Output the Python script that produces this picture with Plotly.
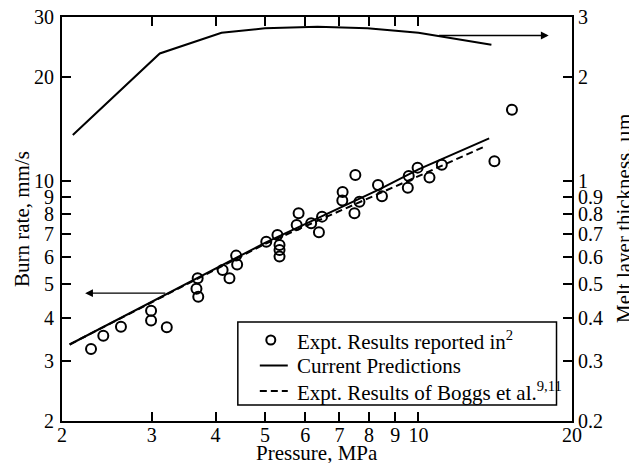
import math
import plotly.graph_objects as go

# ---------------- data ----------------
pressure_expt = [2.28, 2.41, 2.61, 2.99, 2.99, 3.21, 3.69, 3.67, 3.70, 4.13, 4.26, 4.39, 4.41,
                 5.03, 5.29, 5.34, 5.34, 5.34, 5.77, 5.82, 6.16, 6.38, 6.47, 7.10, 7.09, 7.52,
                 7.66, 7.49, 8.33, 8.48, 9.53, 9.57, 9.96, 10.51, 11.11, 14.09, 15.25]
burn_expt = [3.24, 3.54, 3.76, 4.19, 3.92, 3.75, 5.21, 4.85, 4.60, 5.50, 5.21, 6.06, 5.71,
             6.65, 6.96, 6.51, 6.29, 6.02, 7.44, 8.05, 7.53, 7.09, 7.87, 9.28, 8.77, 10.40,
             8.70, 8.05, 9.73, 9.02, 9.55, 10.33, 10.93, 10.23, 11.15, 11.40, 16.12]

pressure_pred = [2.07, 3.21, 5.0, 8.38, 10.0, 13.76]
burn_pred = [3.34, 4.70, 6.60, 9.45, 10.8, 13.3]

pressure_boggs = [2.07, 5.0, 10.41, 13.46]
burn_boggs = [3.34, 6.55, 10.6, 12.58]

pressure_melt = [2.10, 3.11, 4.11, 5.0, 6.34, 7.94, 10.0, 13.9]
melt_thickness = [1.36, 2.35, 2.70, 2.78, 2.81, 2.78, 2.70, 2.49]

x_ticks = [2, 3, 4, 5, 6, 7, 8, 9, 10, 20]
y_ticks = [2, 3, 4, 5, 6, 7, 8, 9, 10, 20, 30]
y2_ticks = [0.2, 0.3, 0.4, 0.5, 0.6, 0.7, 0.8, 0.9, 1, 2, 3]
y2_ticktext = ["0.2", "0.3", "0.4", "0.5", "0.6", "0.7", "0.8", "0.9", "1", "2", "3"]

legend_labels = ["Expt. Results reported in<sup>2</sup>",
                 "Current Predictions",
                 "Expt. Results of Boggs et al.<sup>9,11</sup>"]

# arrows (data coordinates): burn-rate arrow -> left axis, melt arrow -> right axis
burn_arrow = dict(tail=(3.21, 4.71), head=(2.22, 4.71))
melt_arrow = dict(tail=(10.9, 2.65), head=(18.0, 2.65))

FONT = "Liberation Serif"
DASH = "7px,4px"
L = math.log10

# The page body has an 8px margin, so the figure is a bit smaller than the window.
W, H = 629, 455
ML, MR, MT, MB = 54, 64.5, 9, 42
PW, PH = W - ML - MR, H - MT - MB
# plot area as seen on the page
P_LEFT, P_BOTTOM = 62, 421


def px(xp):
    return (xp - P_LEFT) / PW


def py(yp):
    return (P_BOTTOM - yp) / PH


fig = go.Figure()
fig.add_trace(go.Scatter(
    x=pressure_expt, y=burn_expt, mode="markers",
    marker=dict(symbol="circle-open", size=10, color="black", line=dict(width=2, color="black")),
    name=legend_labels[0], showlegend=False))
fig.add_trace(go.Scatter(
    x=pressure_pred, y=burn_pred, mode="lines",
    line=dict(color="black", width=2), name=legend_labels[1], showlegend=False))
fig.add_trace(go.Scatter(
    x=pressure_boggs, y=burn_boggs, mode="lines",
    line=dict(color="black", width=2, dash=DASH), name=legend_labels[2], showlegend=False))
fig.add_trace(go.Scatter(
    x=pressure_melt, y=melt_thickness, mode="lines", yaxis="y2",
    line=dict(color="black", width=2), showlegend=False))

axis_common = dict(showline=True, linecolor="black", linewidth=2, ticks="inside",
                   ticklen=9, tickwidth=2, tickcolor="black", showgrid=False,
                   zeroline=False, ticklabeloverflow="allow",
                   tickfont=dict(family=FONT, size=20, color="black"))

fig.update_layout(
    width=W, height=H,
    margin=dict(l=ML, r=MR, t=MT, b=MB, autoexpand=False),
    paper_bgcolor="white", plot_bgcolor="white",
    font=dict(family=FONT, color="black"),
    xaxis=dict(type="log", range=[L(2), L(20)], tickvals=x_ticks,
               ticktext=[str(v) for v in x_ticks], mirror="ticks",
               ticklabelstandoff=-5, **axis_common),
    yaxis=dict(type="log", range=[L(2), L(30)], tickvals=y_ticks,
               ticktext=[str(v) for v in y_ticks], ticklabelstandoff=2, **axis_common),
    yaxis2=dict(type="log", range=[L(0.2), L(3)], tickvals=y2_ticks, ticktext=y2_ticktext,
                overlaying="y", side="right", **axis_common),
    showlegend=False,
)

# ---- legend drawn by hand ----
box = dict(x0=238, x1=557, y0=322, y1=405)
rows = [340, 365.5, 391]
sample_x = (260, 288)
text_x = 295

shapes = [
    dict(type="rect", xref="paper", yref="paper", x0=px(box["x0"]), x1=px(box["x1"]),
         y0=py(box["y1"]), y1=py(box["y0"]), line=dict(color="black", width=1.5),
         fillcolor="white", layer="above"),
    dict(type="circle", xref="paper", yref="paper", xsizemode="pixel", ysizemode="pixel",
         xanchor=px(271), yanchor=py(rows[0]), x0=-4.5, x1=4.5, y0=-4.5, y1=4.5,
         line=dict(color="black", width=2), layer="above"),
    dict(type="line", xref="paper", yref="paper", x0=px(sample_x[0]), x1=px(sample_x[1]),
         y0=py(rows[1]), y1=py(rows[1]), line=dict(color="black", width=2), layer="above"),
    dict(type="line", xref="paper", yref="paper", x0=px(sample_x[0]), x1=px(sample_x[1]),
         y0=py(rows[2]), y1=py(rows[2]), line=dict(color="black", width=2, dash=DASH),
         layer="above"),
]
fig.update_layout(shapes=shapes)

annotations = [
    dict(text="Pressure, MPa", xref="paper", yref="paper", x=0.5, y=0, yshift=-32,
         xanchor="center", yanchor="middle", showarrow=False,
         font=dict(family=FONT, size=21)),
    dict(text="Burn rate, mm/s", xref="paper", yref="paper", x=0, y=0.5, xshift=-40,
         xanchor="center", yanchor="middle", textangle=-90, showarrow=False,
         font=dict(family=FONT, size=21)),
    dict(text="Melt layer thickness, \u00b5m", xref="paper", yref="paper", x=1, y=0.5,
         xshift=52, xanchor="center", yanchor="middle", textangle=-90, showarrow=False,
         font=dict(family=FONT, size=21)),
    dict(x=L(burn_arrow["head"][0]), y=L(burn_arrow["head"][1]),
         ax=L(burn_arrow["tail"][0]), ay=L(burn_arrow["tail"][1]),
         xref="x", yref="y", axref="x", ayref="y", text="", showarrow=True,
         arrowhead=2, arrowsize=1.2, arrowwidth=1.3, arrowcolor="black"),
    dict(x=L(melt_arrow["head"][0]), y=L(melt_arrow["head"][1]),
         ax=L(melt_arrow["tail"][0]), ay=L(melt_arrow["tail"][1]),
         xref="x", yref="y2", axref="x", ayref="y2", text="", showarrow=True,
         arrowhead=2, arrowsize=1.2, arrowwidth=1.3, arrowcolor="black"),
]
for label, yrow in zip(legend_labels, rows):
    annotations.append(dict(text=label, xref="paper", yref="paper", x=px(text_x), y=py(yrow),
                            xanchor="left", yanchor="middle", showarrow=False,
                            font=dict(family=FONT, size=21, color="black")))
fig.update_layout(annotations=annotations)

fig.write_html("out.html")
